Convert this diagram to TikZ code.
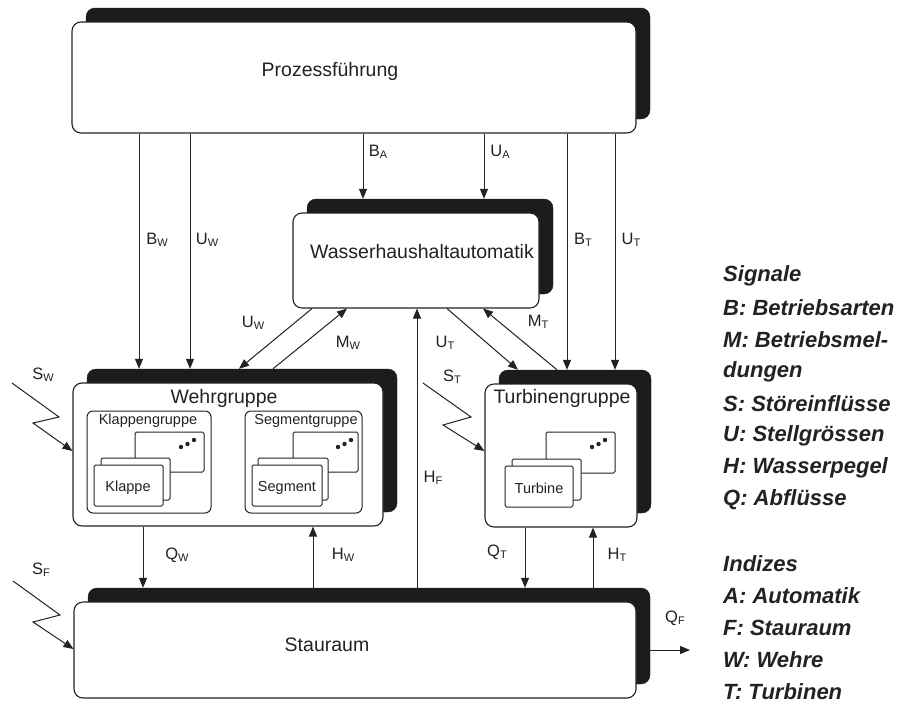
\documentclass[tikz,border=0pt]{standalone}
\usepackage{fontspec}
\setmainfont{Liberation Sans}
\usetikzlibrary{arrows.meta}
\definecolor{ink}{HTML}{222222}
\definecolor{shade}{HTML}{1c1c1c}
\newcommand\sg[2]{#1\raisebox{-2pt}{\fontsize{11}{11}\selectfont #2}}
\begin{document}
\begin{tikzpicture}[x=1pt,y=-1pt,
  front/.style={draw=ink, line width=1.1pt, fill=white, rounded corners=9pt, inner sep=0pt},
  shadowbox/.style={fill=shade, draw=shade, rounded corners=9pt, inner sep=0pt},
  grp/.style={draw=ink, line width=1pt, fill=white, rounded corners=6pt, inner sep=0pt},
  card/.style={draw=ink, line width=1pt, fill=white, rounded corners=1.5pt, inner sep=0pt},
  lbl/.style={font=\fontsize{19.5}{20}\selectfont, text=ink, inner sep=0pt},
  small/.style={font=\fontsize{14.5}{15}\selectfont, text=ink, inner sep=0pt},
  sig/.style={font=\fontsize{16.5}{17}\selectfont, text=ink, inner sep=0pt},
  arr/.style={draw=ink, line width=1pt, -{Triangle[length=10pt,width=8pt]}},
  leg/.style={font=\fontsize{22}{22}\selectfont\bfseries\itshape, text=ink, anchor=west, inner sep=0pt},
  dot/.style={fill=ink, circle, inner sep=0pt, minimum size=4.4pt}
]
\useasboundingbox (0,0) rectangle (909,704);
\fill[white] (0,0) rectangle (909,704);

% shadows
\node[shadowbox, minimum width=564pt, minimum height=111pt] (pfS) at (368,63.5) {};
\node[shadowbox, minimum width=246pt, minimum height=95pt] (whaS) at (430,246.5) {};
\node[shadowbox, minimum width=310pt, minimum height=143pt] (wgS) at (242,440.5) {};
\node[shadowbox, minimum width=152pt, minimum height=143pt] (tgS) at (575,441.5) {};
\node[shadowbox, minimum width=562pt, minimum height=96pt] (stS) at (369,636) {};

% front boxes
\node[front, minimum width=564pt, minimum height=111pt] (pf) at (354,77.5) {};
\node[front, minimum width=246pt, minimum height=95pt] (wha) at (416,260.5) {};
\node[front, minimum width=310pt, minimum height=143pt] (wg) at (228,454.5) {};
\node[front, minimum width=152pt, minimum height=143pt] (tg) at (561,455.5) {};
\node[front, minimum width=562pt, minimum height=96pt] (st) at (355,650) {};

\node[lbl] (pfT) at (330,71) {Prozessführung};
\node[lbl] (whaT) at (422,252) {Wasserhaushaltautomatik};
\node[lbl] (wgT) at (224,398) {Wehrgruppe};
\node[lbl] (tgT) at (562,398) {Turbinengruppe};
\node[lbl] (stT) at (327,645) {Stauraum};

% Klappengruppe
\node[grp, minimum width=124pt, minimum height=102pt] (kg) at (149,462) {};
\node[small] (kgT) at (148,421) {Klappengruppe};
\node[card, minimum width=69pt, minimum height=40pt] (kd) at (169.5,452) {};
\node[dot] (kd1) at (181,447) {};
\node[dot] (kd2) at (187.5,444) {};
\node[dot] (kd3) at (194,440) {};
\node[card, minimum width=69pt, minimum height=42pt] (kb) at (135.5,479) {};
\node[card, minimum width=69pt, minimum height=41pt] (kf) at (128.5,485.5) {};
\node[small] (kfT) at (128,488) {Klappe};

% Segmentgruppe
\node[grp, minimum width=117pt, minimum height=102pt] (sg) at (303.5,462) {};
\node[small] (sgT) at (306,421) {Segmentgruppe};
\node[card, minimum width=65pt, minimum height=40pt] (sd) at (325.5,452) {};
\node[dot] (sd1) at (338,447) {};
\node[dot] (sd2) at (344.5,444) {};
\node[dot] (sd3) at (351,440) {};
\node[card, minimum width=70pt, minimum height=42pt] (sb) at (293,479) {};
\node[card, minimum width=70pt, minimum height=41pt] (sf) at (287,485.5) {};
\node[small] (sfT) at (287,488) {Segment};

% Turbinen
\node[card, minimum width=69pt, minimum height=41pt] (td) at (580.5,452.5) {};
\node[dot] (td1) at (592,447) {};
\node[dot] (td2) at (598.5,444) {};
\node[dot] (td3) at (605,440) {};
\node[card, minimum width=69pt, minimum height=41pt] (tb) at (546.5,479.5) {};
\node[card, minimum width=68pt, minimum height=41pt] (tf) at (539,486.5) {};
\node[small] (tfT) at (539,488) {Turbine};

% vertical signals from Prozessfuehrung
\draw[arr] (139,0 |- pf.south) -- (139,0 |- wgS.north);
\draw[arr] (190,0 |- pf.south) -- (190,0 |- wgS.north);
\draw[arr] (363,0 |- pf.south) -- (363,0 |- whaS.north);
\draw[arr] (484,0 |- pf.south) -- (484,0 |- whaS.north);
\draw[arr] (567,0 |- pf.south) -- (567,0 |- tgS.north);
\draw[arr] (615,0 |- pf.south) -- (615,0 |- tgS.north);

% diagonals
\draw[arr] (312,0 |- wha.south) -- (239,0 |- wgS.north);
\draw[arr] (273,0 |- wgS.north) -- (347,0 |- wha.south);
\draw[arr] (447,0 |- wha.south) -- (518,0 |- tgS.north);
\draw[arr] (557,0 |- tgS.north) -- (483,0 |- wha.south);

% lower connections
\draw[arr] (417,0 |- stS.north) -- (417,0 |- wha.south);
\draw[arr] (143,0 |- wg.south) -- (143,0 |- stS.north);
\draw[arr] (313,0 |- stS.north) -- (313,0 |- wg.south);
\draw[arr] (525,0 |- tg.south) -- (525,0 |- stS.north);
\draw[arr] (593,0 |- stS.north) -- (593,0 |- tg.south);
\coordinate (qf) at (690,650);
\draw[arr] (stS.east |- qf) -- (qf);

% disturbances
\coordinate (sw0) at (12,383); \coordinate (sw1) at (59,417); \coordinate (sw2) at (33,423);
\draw[arr] (sw0) -- (sw1) -- (sw2) -- (wg.west |- 0,451);
\coordinate (st0) at (423,383); \coordinate (st1) at (471,417); \coordinate (st2) at (443,425);
\draw[arr] (st0) -- (st1) -- (st2) -- (tg.west |- 0,451);
\coordinate (sf0) at (13,581); \coordinate (sf1) at (60,615); \coordinate (sf2) at (33,622);
\draw[arr] (sf0) -- (sf1) -- (sf2) -- (st.west |- 0,649);

% signal labels
\node[sig] (lBW) at (157,240) {\sg{B}{W}};
\node[sig] (lUW) at (207,240) {\sg{U}{W}};
\node[sig] (lBA) at (378,152) {\sg{B}{A}};
\node[sig] (lUA) at (500,152) {\sg{U}{A}};
\node[sig] (lBT) at (583,240) {\sg{B}{T}};
\node[sig] (lUT) at (631,240) {\sg{U}{T}};
\node[sig] (lUW2) at (253,323) {\sg{U}{W}};
\node[sig] (lMW) at (348,343) {\sg{M}{W}};
\node[sig] (lUT2) at (445,343) {\sg{U}{T}};
\node[sig] (lMT) at (538,322) {\sg{M}{T}};
\node[sig] (lST) at (452,377) {\sg{S}{T}};
\node[sig] (lSW) at (43,375) {\sg{S}{W}};
\node[sig] (lHF) at (433,478) {\sg{H}{F}};
\node[sig] (lQW) at (177,555) {\sg{Q}{W}};
\node[sig] (lHW) at (343,555) {\sg{H}{W}};
\node[sig] (lQT) at (497,552) {\sg{Q}{T}};
\node[sig] (lHT) at (617,555) {\sg{H}{T}};
\node[sig] (lSF) at (41,570) {\sg{S}{F}};
\node[sig] (lQF) at (675,618) {\sg{Q}{F}};

% legend
\node[leg] (g1) at (723,276) {Signale};
\node[leg] (g2) at (723,308) {B: Betriebsarten};
\node[leg] (g3) at (723,340) {M: Betriebsmel-};
\node[leg] (g4) at (723,372) {dungen};
\node[leg] (g5) at (723,404) {S: Störeinflüsse};
\node[leg] (g6) at (723,436) {U: Stellgrössen};
\node[leg] (g7) at (723,468) {H: Wasserpegel};
\node[leg] (g8) at (723,500) {Q: Abflüsse};
\node[leg] (g9) at (723,564) {Indizes};
\node[leg] (g10) at (723,596) {A: Automatik};
\node[leg] (g11) at (723,628) {F: Stauraum};
\node[leg] (g12) at (723,660) {W: Wehre};
\node[leg] (g13) at (723,692) {T: Turbinen};
\end{tikzpicture}
\end{document}
